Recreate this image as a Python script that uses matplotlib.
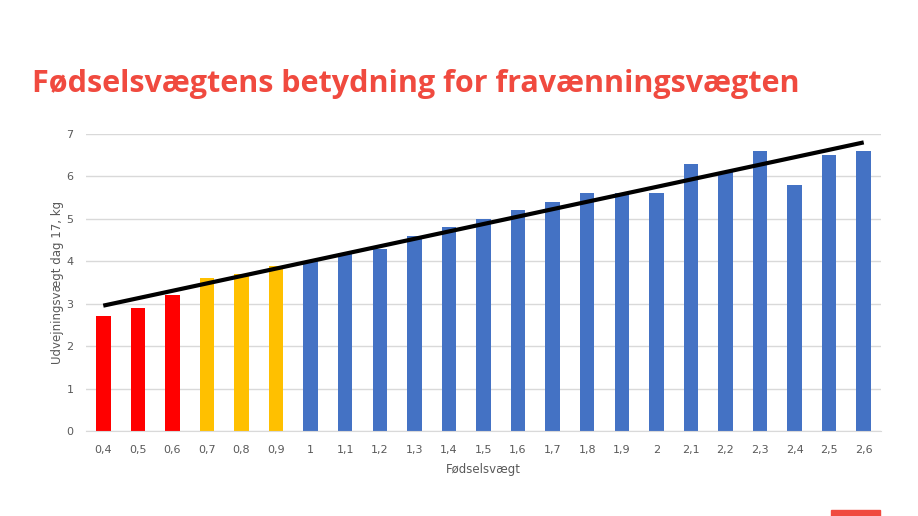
import numpy as np
import matplotlib
matplotlib.use("Agg")
import matplotlib.pyplot as plt
from matplotlib.patches import Rectangle

# birth weight categories and weaning weight at day 17
categories = ["0,4", "0,5", "0,6", "0,7", "0,8", "0,9", "1", "1,1", "1,2", "1,3",
              "1,4", "1,5", "1,6", "1,7", "1,8", "1,9", "2", "2,1", "2,2", "2,3",
              "2,4", "2,5", "2,6"]
weights = [2.7, 2.9, 3.2, 3.6, 3.7, 3.9, 4.0, 4.2, 4.3, 4.6,
           4.8, 5.0, 5.2, 5.4, 5.6, 5.6, 5.6, 6.3, 6.1, 6.6,
           5.8, 6.5, 6.6]
groups = ["low"] * 3 + ["mid"] * 3 + ["high"] * 17

GROUP_COLORS = {"low": "#FF0000", "mid": "#FFC000", "high": "#4472C4"}
GRAY = "#595959"

fig = plt.figure(figsize=(9.18, 5.16), dpi=100)
ax = fig.add_axes([86 / 918, 85 / 516, 795 / 918, 297 / 516])

x = np.arange(len(categories))
ax.bar(x, weights, width=0.42, color=[GROUP_COLORS[g] for g in groups], zorder=2)

# linear trend line
coef = np.polyfit(x, weights, 1)
ax.plot(x, np.polyval(coef, x), color="black", linewidth=3, zorder=3,
        solid_capstyle="butt")

ax.set_xlim(-0.5, len(categories) - 0.5)
ax.set_ylim(0, 7)
ax.set_yticks(range(8))
ax.set_xticks(x)
ax.set_xticklabels(categories)
ax.grid(axis="y", color="#D9D9D9", linewidth=1, zorder=0)
ax.tick_params(length=0, colors=GRAY, labelsize=8)
ax.tick_params(axis="x", pad=10)
ax.tick_params(axis="y", pad=9)
for side in ["top", "right", "left"]:
    ax.spines[side].set_visible(False)
ax.spines["bottom"].set_color("#D9D9D9")

ax.set_xlabel("Fødselsvægt", color=GRAY, fontsize=8.5, labelpad=6)
ax.set_ylabel("Udvejningsvægt dag 17, kg", color=GRAY, fontsize=8.5, labelpad=2)

fig.text(32 / 918, 1 - 84 / 516, "Fødselsvægtens betydning for fravænningsvægten",
         color="#F04A3F", fontsize=22, fontweight="bold", family="Open Sans",
         va="center", ha="left")

# small red bar in bottom-right corner
fig.patches.append(Rectangle((831 / 918, 0), 49 / 918, 6 / 516,
                             transform=fig.transFigure, color="#F04A3F"))

fig.savefig("out.png", dpi=100)
